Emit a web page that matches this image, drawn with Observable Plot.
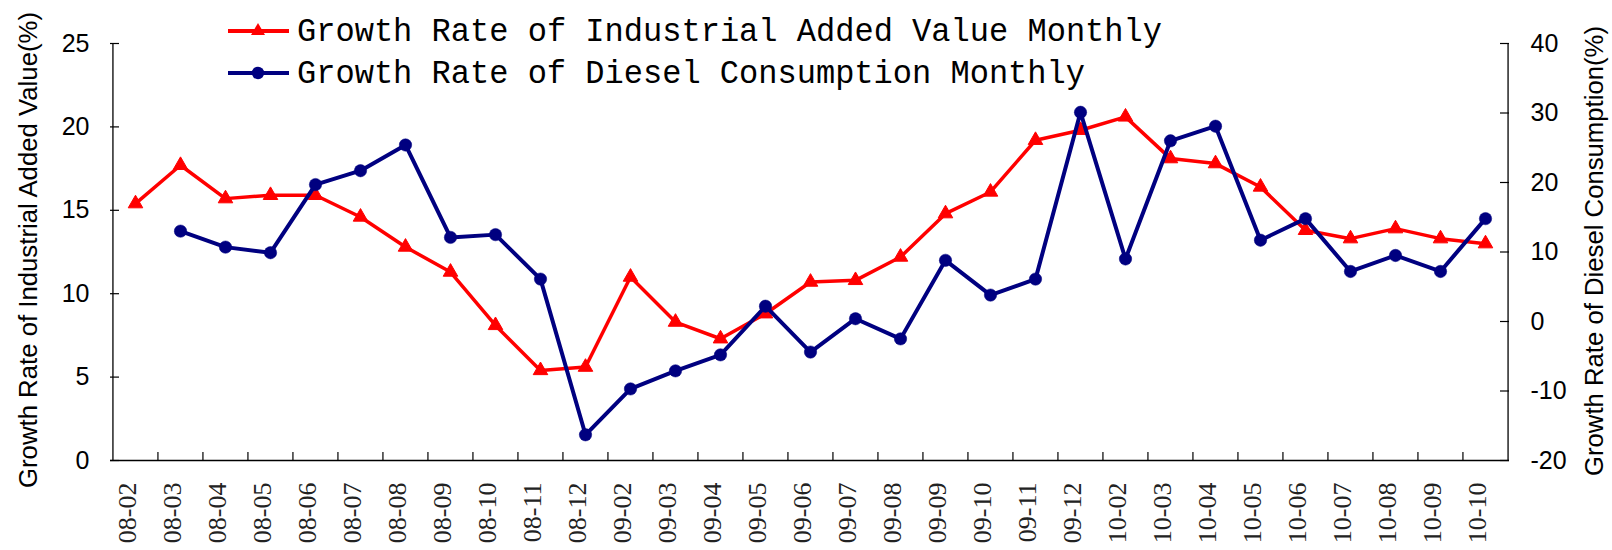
<!DOCTYPE html>
<html><head><meta charset="utf-8">
<script src="https://cdn.jsdelivr.net/npm/d3@7"></script>
<script src="https://cdn.jsdelivr.net/npm/@observablehq/plot@0.6"></script>
<style>html,body{margin:0;padding:0;background:#fff;} #chart{width:1612px;height:550px;position:relative;}</style>
</head><body><div id="chart"></div>
<script>
const categories = ["08-02","08-03","08-04","08-05","08-06","08-07","08-08","08-09","08-10","08-11","08-12",
  "09-02","09-03","09-04","09-05","09-06","09-07","09-08","09-09","09-10","09-11","09-12",
  "10-02","10-03","10-04","10-05","10-06","10-07","10-08","10-09","10-10"];
const industrialGrowth = [15.4,17.7,15.7,15.9,15.9,14.6,12.8,11.3,8.1,5.4,5.6,
  11.0,8.3,7.3,8.8,10.7,10.8,12.2,14.8,16.1,19.2,19.8,
  20.6,18.1,17.8,16.4,13.8,13.3,13.9,13.3,13.0];
const dieselGrowth = [null,13.0,10.7,9.9,19.7,21.7,25.4,12.1,12.5,6.1,-16.3,
  -9.7,-7.1,-4.8,2.2,-4.4,0.4,-2.5,8.8,3.8,6.1,30.1,
  9.0,26.0,28.1,11.7,14.8,7.2,9.5,7.2,14.8];
const leftTicks = [0,5,10,15,20,25];
const rightTicks = [-20,-10,0,10,20,30,40];
const seriesNames = ["Growth Rate of Industrial Added Value Monthly","Growth Rate of Diesel Consumption Monthly"];
const leftTitle = "Growth Rate of Industrial Added Value(%)";
const rightTitle = "Growth Rate of Diesel Consumption(%)";

const W = 1612, H = 550, mL = 110, mR = 103, mT = 43, mB = 90;
const plotW = W - mL - mR, plotH = H - mT - mB;
const step = plotW / categories.length;
const RED = "#ff0000", BLUE = "#000080";
const sans = "Liberation Sans, Arial, sans-serif";
const serif = "Liberation Serif, Times New Roman, serif";
const leftMax = 25, rMin = -20, rMax = 40;
const toLeft = v => (v - rMin) * leftMax / (rMax - rMin);

const rows = categories.map((c, i) => ({month: c, ind: industrialGrowth[i], dsl: dieselGrowth[i]}));

const chart = Plot.plot({
  width: W, height: H,
  marginLeft: mL, marginRight: mR, marginTop: mT, marginBottom: mB,
  style: {background: "#fff", overflow: "visible"},
  x: {type: "point", domain: categories, padding: 0.5, axis: null},
  y: {domain: [0, leftMax], axis: null},
  marks: [
    Plot.ruleY([0], {stroke: "#000", strokeWidth: 1.3}),
    Plot.ruleX([categories[0]], {dx: -step / 2, stroke: "#000", strokeWidth: 1.3}),
    Plot.ruleX([categories[categories.length - 1]], {dx: step / 2, stroke: "#000", strokeWidth: 1.3}),
    Plot.tickY(leftTicks, {y: d => d, insetRight: plotW - 9, stroke: "#000", strokeWidth: 1.2}),
    Plot.tickY(rightTicks, {y: d => toLeft(d), insetLeft: plotW - 9, stroke: "#000", strokeWidth: 1.2}),
    Plot.tickX(categories.slice(1), {x: d => d, dx: -step / 2, insetTop: plotH - 8, stroke: "#000", strokeWidth: 1.2}),
    Plot.text(leftTicks, {y: d => d, text: d => String(d), frameAnchor: "left", dx: -21, textAnchor: "end",
      fontSize: 25, fontFamily: sans, fill: "#000"}),
    Plot.text(rightTicks, {y: d => toLeft(d), text: d => String(d), frameAnchor: "right", dx: 21, textAnchor: "start",
      fontSize: 25, fontFamily: sans, fill: "#000"}),
    Plot.text(categories, {x: d => d, text: d => d, frameAnchor: "bottom", rotate: -90, textAnchor: "end", dy: 22,
      fontSize: 26, fontFamily: serif, fill: "#222"}),
    Plot.line(rows, {x: "month", y: "ind", stroke: RED, strokeWidth: 3.5}),
    Plot.dot(rows, {x: "month", y: "ind", symbol: "triangle", r: 5.4, fill: RED, stroke: RED, strokeWidth: 1}),
    Plot.line(rows, {x: "month", y: d => d.dsl == null ? NaN : toLeft(d.dsl), stroke: BLUE, strokeWidth: 4}),
    Plot.dot(rows.filter(d => d.dsl != null), {x: "month", y: d => toLeft(d.dsl), r: 6.2, fill: BLUE, stroke: BLUE, strokeWidth: 0.5})
  ]
});
document.getElementById("chart").appendChild(chart);

const svg = d3.select(chart);
svg.append("text").attr("transform", "translate(37,250) rotate(-90)")
  .attr("text-anchor", "middle").attr("font-family", sans).attr("font-size", 26)
  .attr("textLength", 476).attr("lengthAdjust", "spacingAndGlyphs").attr("fill", "#000").text(leftTitle);
svg.append("text").attr("transform", "translate(1603,251) rotate(-90)")
  .attr("text-anchor", "middle").attr("font-family", sans).attr("font-size", 26)
  .attr("textLength", 450).attr("lengthAdjust", "spacingAndGlyphs").attr("fill", "#000").text(rightTitle);

const legend = svg.append("g");
const legendItems = [
  {name: seriesNames[0], color: RED, sym: d3.symbolTriangle, size: 85, y: 31, textLen: 865, sw: 4},
  {name: seriesNames[1], color: BLUE, sym: d3.symbolCircle, size: Math.PI * 6.2 * 6.2, y: 73, textLen: 788, sw: 4}
];
legendItems.forEach(it => {
  legend.append("line").attr("x1", 228).attr("x2", 289).attr("y1", it.y).attr("y2", it.y)
    .attr("stroke", it.color).attr("stroke-width", it.sw);
  legend.append("path").attr("d", d3.symbol(it.sym, it.size)()).attr("transform", `translate(258,${it.y})`)
    .attr("fill", it.color);
  legend.append("text").attr("x", 297).attr("y", it.y + 10).attr("text-anchor", "start")
    .attr("font-family", "Liberation Mono, DejaVu Sans Mono, monospace")
    .attr("font-size", 34).attr("textLength", it.textLen).attr("lengthAdjust", "spacingAndGlyphs")
    .attr("fill", "#000").text(it.name);
});
</script>
</body></html>
